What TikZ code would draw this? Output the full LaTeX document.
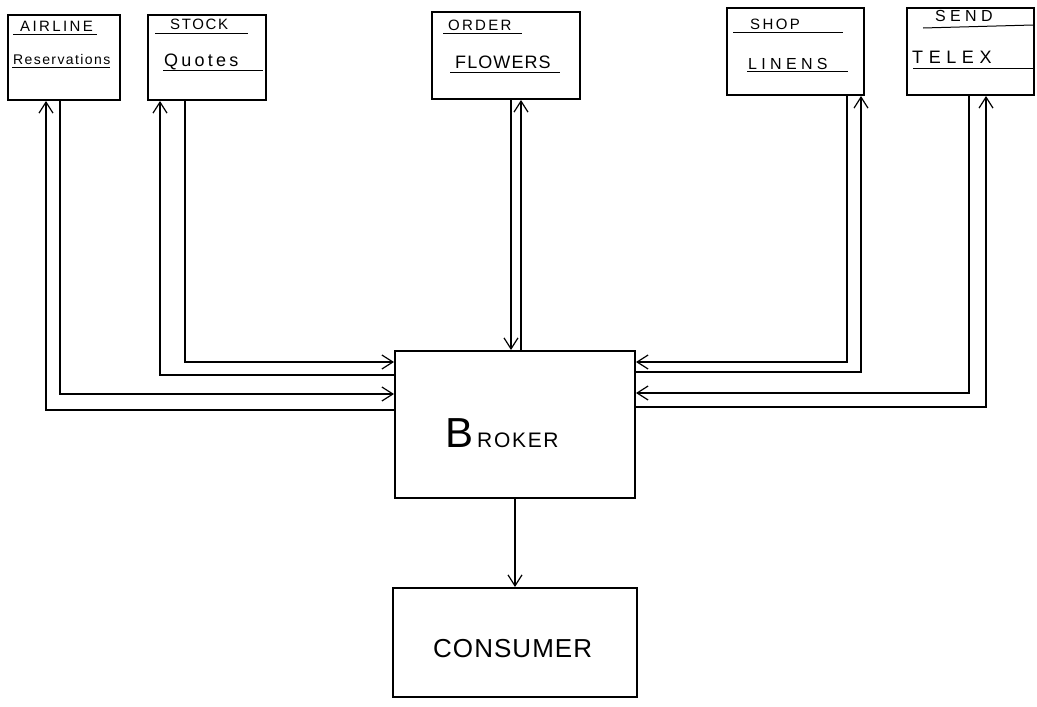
\documentclass[tikz,border=0pt]{standalone}
\usepackage{fontspec}
\setmainfont{Liberation Sans}
\usetikzlibrary{arrows.meta}
\tikzset{
  box/.style={draw, line width=2pt, inner sep=0pt},
  conn/.style={line width=1.2pt, -{Straight Barb[length=11pt,width=14pt,line width=1.2pt]}},
  uline/.style={line width=1pt},
  lbl/.style={inner sep=0pt, anchor=base west},
  fs/.style 2 args={font=\fontsize{#1}{#1}\selectfont\addfontfeature{LetterSpace=#2}},
}
\begin{document}
\begin{tikzpicture}[x=1pt,y=-1pt]
\useasboundingbox (0,0) rectangle (1037,707);
% boxes
\node[box, minimum width=112pt, minimum height=85pt] (airline) at (64,57.5) {};
\node[box, minimum width=118pt, minimum height=85pt] (stock) at (207,57.5) {};
\node[box, minimum width=148pt, minimum height=87pt] (order) at (506,55.5) {};
\node[box, minimum width=137pt, minimum height=87pt] (shop) at (795.5,51.5) {};
\node[box, minimum width=127pt, minimum height=87pt] (send) at (970.5,51.5) {};
\node[box, minimum width=240pt, minimum height=147pt] (broker) at (515,424.5) {};
\node[box, minimum width=244pt, minimum height=109pt] (consumer) at (515,642.5) {};
% texts
\node[lbl, fs={15}{16}] (t1a) at (20,31) {AIRLINE};
\node[lbl, fs={14}{10}] (t1b) at (13,64) {Reservations};
\node[lbl, fs={15}{11}] (t2a) at (170,29) {STOCK};
\node[lbl, fs={18}{18}] (t2b) at (164,66) {Quotes};
\node[lbl, fs={15}{15}] (t3a) at (448,30) {ORDER};
\node[lbl, fs={18}{6}] (t3b) at (455,68) {FLOWERS};
\node[lbl, fs={15}{16}] (t4a) at (750,29) {SHOP};
\node[lbl, fs={16}{27}] (t4b) at (748,69) {LINENS};
\node[lbl, fs={16}{27}] (t5a) at (935,21) {SEND};
\node[lbl, fs={18}{31}] (t5b) at (912,63) {TELEX};
\node[lbl] (tb) at (445,447) {{\fontsize{42}{44}\selectfont B}\hspace{4pt}{\fontsize{21}{23}\selectfont\addfontfeature{LetterSpace=8}ROKER}};
\node[lbl, fs={26}{4}] (tc) at (433,657) {CONSUMER};
% underlines
\draw[uline] (13,34) -- (97,34);
\draw[uline] (12,67) -- (110,67);
\draw[uline] (155,33) -- (248,33);
\draw[uline] (163,70) -- (263,70);
\draw[uline] (443,33) -- (522,33);
\draw[uline] (450,72) -- (560,72);
\draw[uline] (733,32) -- (843,32);
\draw[uline] (747,71) -- (848,71);
\draw[uline] (923,28) -- (1033,25);
\draw[uline] (913,68) -- (1034,68);
% connector coordinates
\coordinate (pA1) at (46,410);
\coordinate (pA2) at (60,394);
\coordinate (pS1) at (160,375);
\coordinate (pS2) at (185,362);
\coordinate (pO1) at (511,0);
\coordinate (pO2) at (521,0);
\coordinate (pH1) at (847,362);
\coordinate (pH2) at (861,372);
\coordinate (pT1) at (969,393);
\coordinate (pT2) at (986,407);
% connectors
\draw[conn] (broker.west |- pA1) -| (airline.south -| pA1);
\draw[conn] (airline.south -| pA2) |- (broker.west |- pA2);
\draw[conn] (broker.west |- pS1) -| (stock.south -| pS1);
\draw[conn] (stock.south -| pS2) |- (broker.west |- pS2);
\draw[conn] (order.south -| pO1) -- (broker.north -| pO1);
\draw[conn] (broker.north -| pO2) -- (order.south -| pO2);
\draw[conn] (shop.south -| pH1) |- (broker.east |- pH1);
\draw[conn] (broker.east |- pH2) -| (shop.south -| pH2);
\draw[conn] (send.south -| pT1) |- (broker.east |- pT1);
\draw[conn] (broker.east |- pT2) -| (send.south -| pT2);
\draw[conn] (broker.south) -- (consumer.north);
\end{tikzpicture}
\end{document}
